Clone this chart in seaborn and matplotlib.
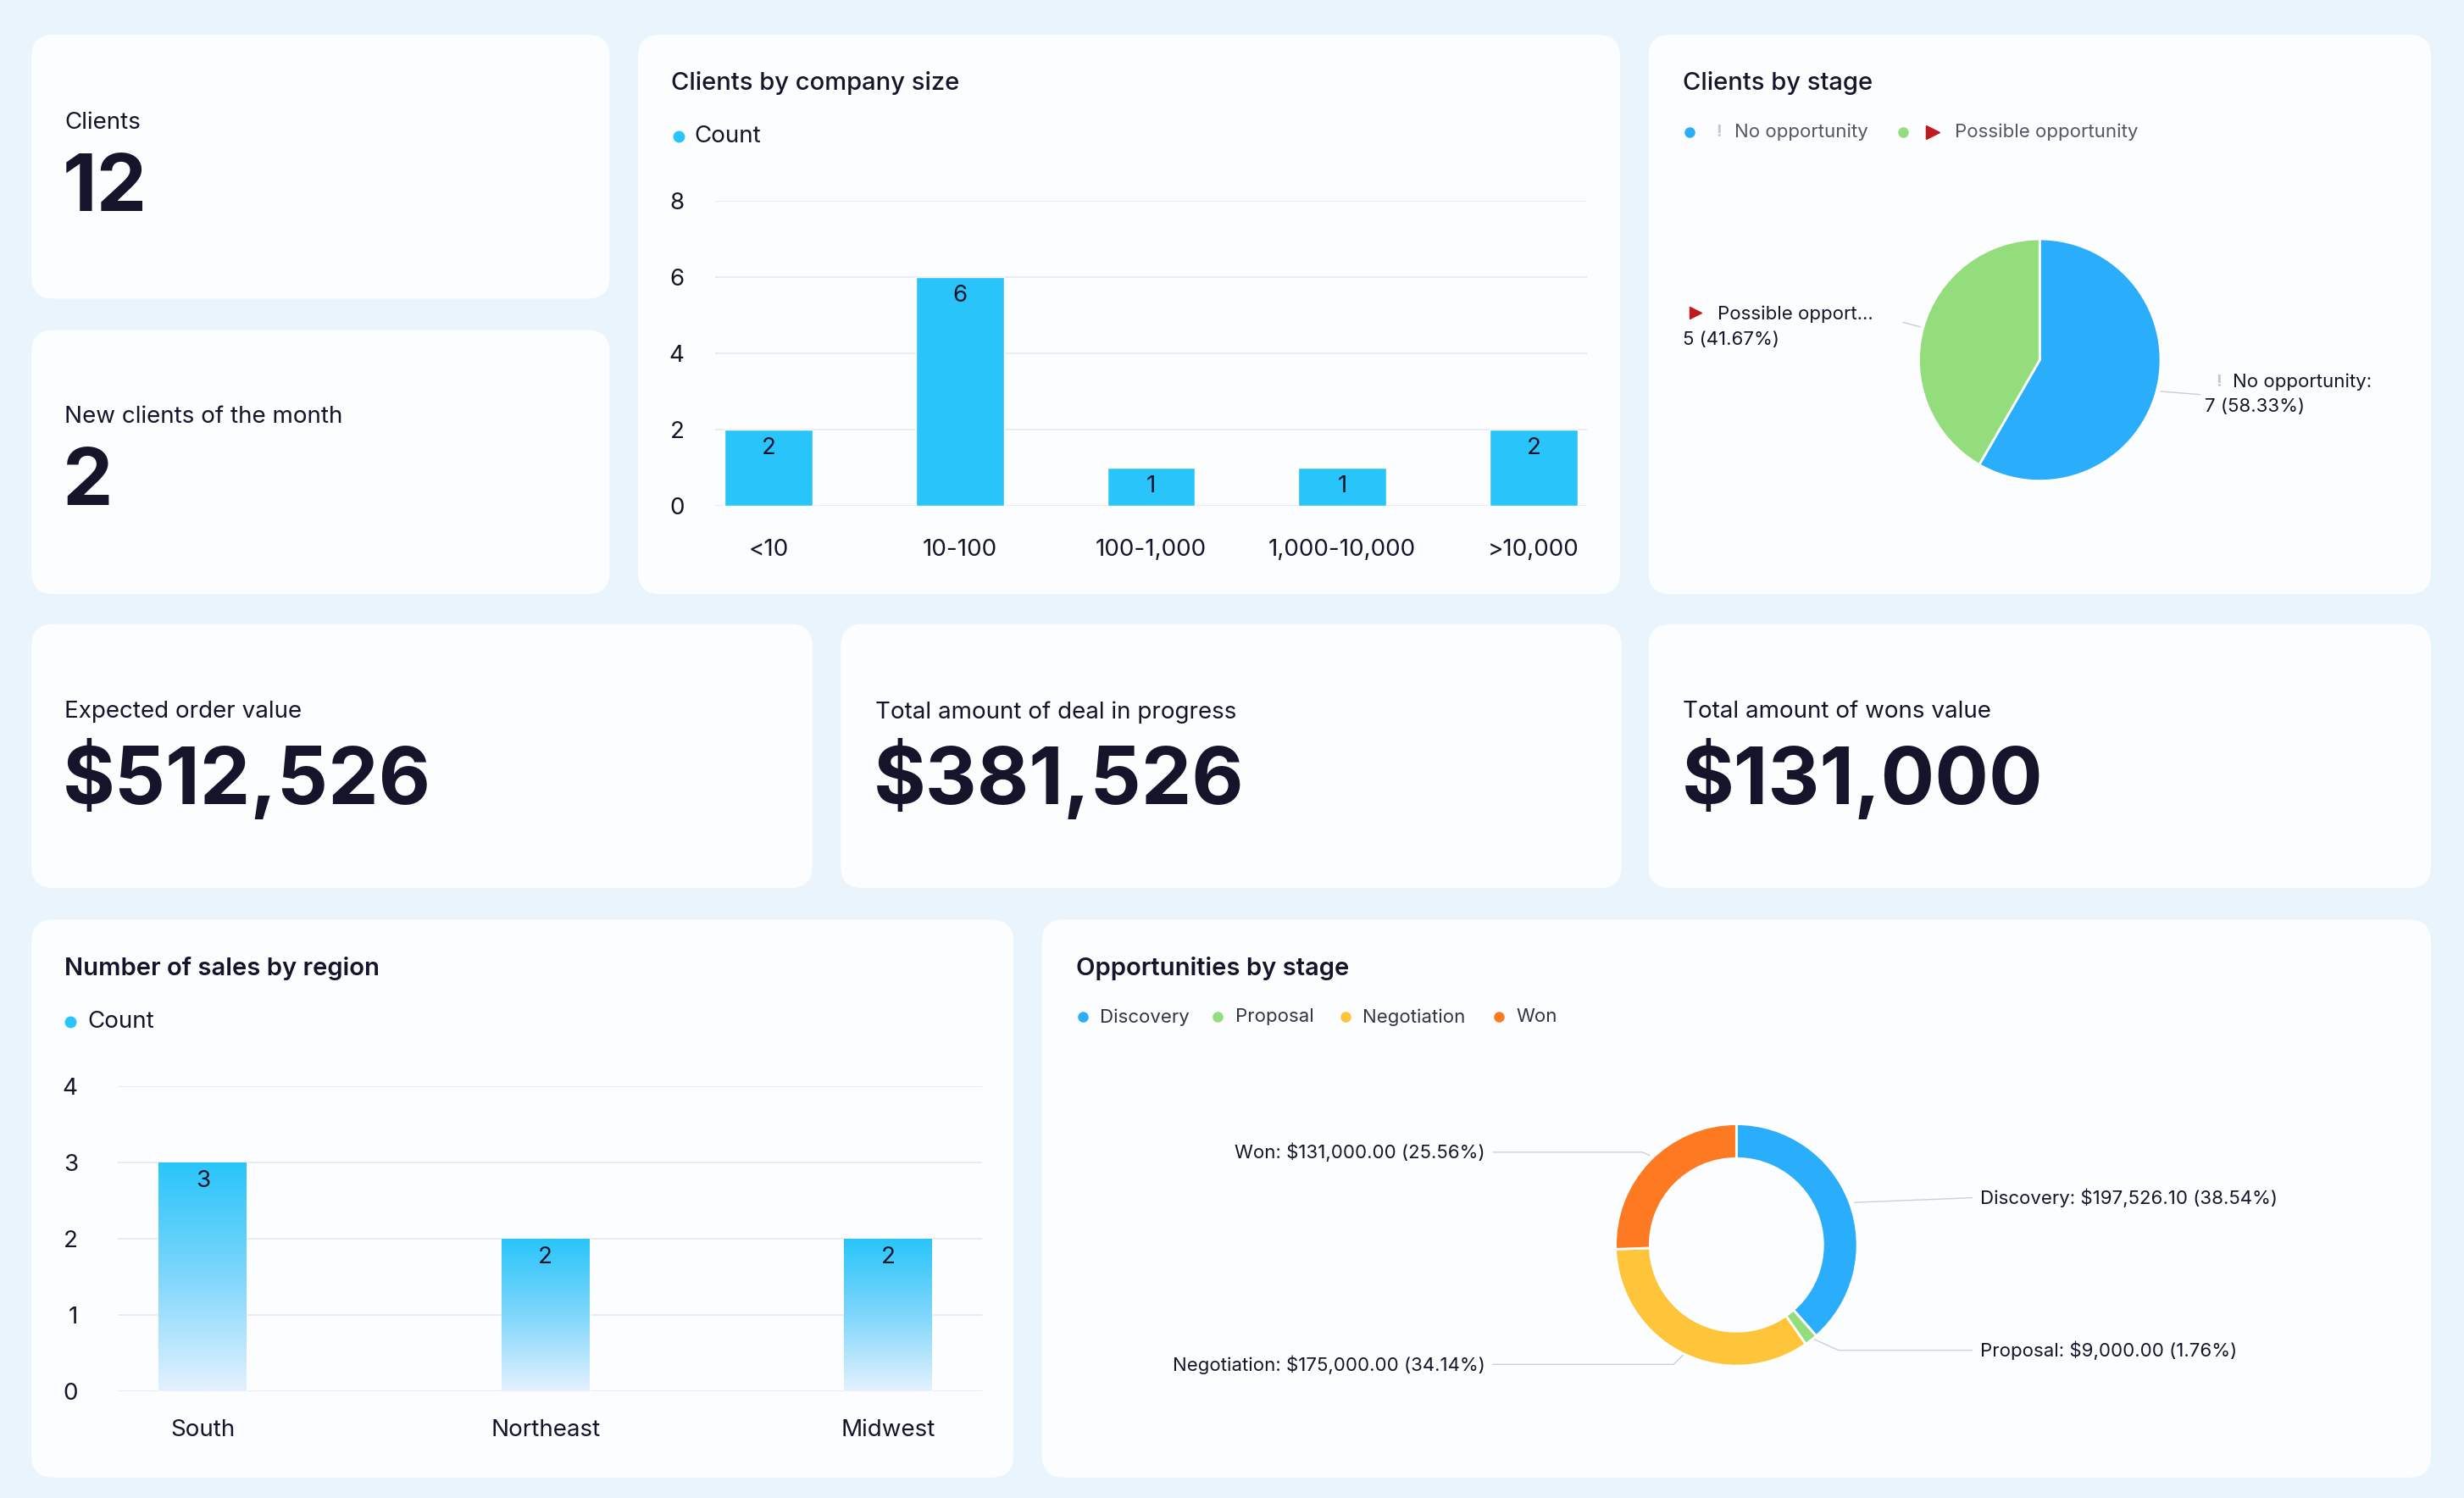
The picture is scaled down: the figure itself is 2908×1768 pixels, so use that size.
import numpy as np
import pandas as pd
import matplotlib
matplotlib.use("Agg")
import matplotlib.pyplot as plt
import seaborn as sns
from matplotlib.patches import FancyBboxPatch
from matplotlib.colors import LinearSegmentedColormap

sns.set_theme(style="white")
plt.rcParams['font.family'] = ['Inter', 'DejaVu Sans']

# ---- data ----
size_cats = ["<10", "10-100", "100-1,000", "1,000-10,000", ">10,000"]
size_counts = [2, 6, 1, 1, 2]
stage_labels = ["No opportunity", "Possible opportunity"]
stage_counts = [7, 5]
region_cats = ["South", "Northeast", "Midwest"]
region_counts = [3, 2, 2]
opp_labels = ["Discovery", "Proposal", "Negotiation", "Won"]
opp_values = [197526.10, 9000.00, 175000.00, 131000.00]
kpi_clients = 12
kpi_new = 2
kpi_expected = "$512,526"
kpi_progress = "$381,526"
kpi_won = "$131,000"

W, H = 1568, 953
fig = plt.figure(figsize=(29.08, 17.68), dpi=100)
fig.patch.set_facecolor("#eaf4fd")
bg = fig.add_axes([0, 0, 1, 1])
bg.set_xlim(0, W); bg.set_ylim(H, 0); bg.axis("off")
bg.set_facecolor("none")

DARK = "#14142b"
def card(x0, y0, x1, y1):
    bg.add_patch(FancyBboxPatch((x0, y0), x1 - x0, y1 - y0,
                                boxstyle="round,pad=0,rounding_size=14",
                                fc="#fbfdff", ec="none", zorder=0))

cards = [(20, 22, 388, 190), (20, 210, 388, 378), (406, 22, 1031, 378),
         (1049, 22, 1547, 378), (20, 397, 517, 565), (535, 397, 1032, 565),
         (1049, 397, 1547, 565), (20, 585, 645, 940), (663, 585, 1547, 940)]
for c in cards:
    card(*c)

def ax_at(x0, y0, x1, y1):
    return fig.add_axes([x0 / W, 1 - y1 / H, (x1 - x0) / W, (y1 - y0) / H])

# ---- KPI cards ----
def kpi(x, y, label, value):
    bg.text(x, y, label, fontsize=20, color=DARK, va="center", ha="left")
    bg.text(x - 1, y + 43, str(value), fontsize=68, fontweight="bold", color=DARK,
            va="center", ha="left")
kpi(41, 78, "Clients", kpi_clients)
kpi(41, 265, "New clients of the month", kpi_new)
kpi(41, 453, "Expected order value", kpi_expected)
kpi(557, 453, "Total amount of deal in progress", kpi_progress)
kpi(1071, 453, "Total amount of wons value", kpi_won)

# ---- Clients by company size ----
bg.text(427, 53, "Clients by company size", fontsize=21, fontweight="medium", color=DARK, va="center")
bg.plot([432], [87], "o", color="#29c5fa", ms=9)
bg.text(442, 87, "Count", fontsize=20, color=DARK, va="center")
ax1 = ax_at(455, 128, 1010, 322)
df1 = pd.DataFrame({"size": size_cats, "count": size_counts})
sns.barplot(data=df1, x="size", y="count", color="#29c5fa", width=0.46, saturation=1, ax=ax1)
ax1.set_ylim(0, 8); ax1.set_yticks([0, 2, 4, 6, 8])
ax1.set_xlim(-0.28, 4.28)
ax1.grid(axis="y", color="#e6e8ee", lw=1.2)
ax1.set_axisbelow(True)
for s in ax1.spines.values(): s.set_visible(False)
ax1.set_xlabel(""); ax1.set_ylabel("")
ax1.tick_params(axis="both", labelsize=20, colors=DARK, length=0)
ax1.tick_params(axis="x", pad=28)
ax1.tick_params(axis="y", pad=26)
for p, v in zip(ax1.patches, size_counts):
    ax1.text(p.get_x() + p.get_width() / 2, v - 0.2, str(v), ha="center", va="top", fontsize=20, color=DARK)
ax1.set_facecolor("none")

# ---- Clients by stage (pie) ----
bg.text(1071, 53, "Clients by stage", fontsize=21, fontweight="medium", color=DARK, va="center")
bg.plot([1075], [84], "o", color="#2aaefb", ms=8)
bg.text(1094, 84, "!", fontsize=14, color="#c8c8c8", va="center", ha="center", fontweight="bold")
bg.text(1104, 84, "No opportunity", fontsize=16, color="#555566", va="center")
bg.plot([1211], [84], "o", color="#93dd7c", ms=8)
bg.plot([1230], [84], marker=">", color="#c0191e", ms=11)
bg.text(1244, 84, "Possible opportunity", fontsize=16, color="#555566", va="center")
cx, cy, r = 1298, 229, 77
axp = ax_at(cx - 90, cy - 90, cx + 90, cy + 90)
axp.pie(stage_counts, colors=["#2aaefb", "#93dd7c"], startangle=90, counterclock=False,
        wedgeprops=dict(edgecolor="white", linewidth=2))
axp.set_xlim(-90 / 77, 90 / 77); axp.set_ylim(-90 / 77, 90 / 77)
bg.plot([1211, 1222], [205, 208], color="#cccccc", lw=1)
bg.plot([1375, 1400], [249, 251], color="#cccccc", lw=1)
bg.plot([1079], [199], marker=">", color="#c0191e", ms=10)
bg.text(1093, 200, "Possible opport…", fontsize=16, color=DARK, va="center")
bg.text(1071, 216, "5 (41.67%)", fontsize=16, color=DARK, va="center")
bg.text(1412, 243, "!", fontsize=14, color="#c8c8c8", va="center", ha="center", fontweight="bold")
bg.text(1421, 243, "No opportunity:", fontsize=16, color=DARK, va="center")
bg.text(1403, 259, "7 (58.33%)", fontsize=16, color=DARK, va="center")

# ---- Number of sales by region ----
bg.text(41, 616, "Number of sales by region", fontsize=21, fontweight="semibold", color=DARK, va="center")
bg.plot([45], [650], "o", color="#29c5fa", ms=9)
bg.text(56, 650, "Count", fontsize=20, color=DARK, va="center")
ax2 = ax_at(75, 691, 625, 885)
df2 = pd.DataFrame({"region": region_cats, "count": region_counts})
sns.barplot(data=df2, x="region", y="count", color="#29c5fa", width=0.257, saturation=1, ax=ax2)
XL = (-0.248, 2.275)
ax2.grid(axis="y", color="#e6e8ee", lw=1.2)
ax2.set_axisbelow(True)
for s in ax2.spines.values(): s.set_visible(False)
ax2.set_xlabel(""); ax2.set_ylabel("")
ax2.tick_params(axis="both", labelsize=20, colors=DARK, length=0)
ax2.tick_params(axis="x", pad=24)
ax2.tick_params(axis="y", pad=34)
grad = np.linspace(0, 1, 256).reshape(-1, 1)
cmap = LinearSegmentedColormap.from_list("g", ["#29c5fa", "#7fd6fb", "#e4f1ff"])
for p, v in zip(ax2.patches, region_counts):
    x0, w = p.get_x(), p.get_width()
    im = ax2.imshow(grad, cmap=cmap, aspect="auto", extent=(x0, x0 + w, 0, v), origin="upper", zorder=2)
    im.set_clip_path(p)
    p.set_facecolor("none")
    ax2.text(x0 + w / 2, v - 0.1, str(v), ha="center", va="top", fontsize=20, color=DARK, zorder=3)
ax2.set_ylim(0, 4); ax2.set_yticks([0, 1, 2, 3, 4]); ax2.set_xlim(*XL)
ax2.set_facecolor("none")

# ---- Opportunities by stage (donut) ----
bg.text(685, 616, "Opportunities by stage", fontsize=21, fontweight="semibold", color=DARK, va="center")
opp_colors = ["#2aaefb", "#93dd7c", "#fec43a", "#fd7a22"]
for lab, col, lx in zip(opp_labels, opp_colors, [689, 775, 856, 954]):
    bg.plot([lx], [647], "o", color=col, ms=8)
    bg.text(lx + 11, 647, lab, fontsize=16, color="#333344", va="center")
dcx, dcy = 1105, 792
axd = ax_at(dcx - 90, dcy - 90, dcx + 90, dcy + 90)
axd.pie(opp_values, colors=opp_colors, startangle=90, counterclock=False,
        wedgeprops=dict(width=22 / 77, edgecolor="white", linewidth=2))
axd.set_xlim(-90 / 77, 90 / 77); axd.set_ylim(-90 / 77, 90 / 77)
total = sum(opp_values)
pct = [v / total * 100 for v in opp_values]
texts = [
    (f"Discovery: ${opp_values[0]:,.2f} ({pct[0]:.2f}%)", 1260, 762, "left", [(1180, 765), (1255, 762)]),
    (f"Proposal: ${opp_values[1]:,.2f} ({pct[1]:.2f}%)", 1260, 859, "left", [(1150, 850), (1170, 859), (1255, 859)]),
    (f"Negotiation: ${opp_values[2]:,.2f} ({pct[2]:.2f}%)", 945, 868, "right", [(1075, 858), (1065, 868), (950, 868)]),
    (f"Won: ${opp_values[3]:,.2f} ({pct[3]:.2f}%)", 945, 733, "right", [(1050, 735), (1045, 733), (950, 733)]),
]
for txt, tx, ty, ha, pts in texts:
    xs, ys = zip(*pts)
    bg.plot(xs, ys, color="#d0d0d0", lw=1)
    bg.text(tx, ty, txt, fontsize=16, color=DARK, va="center", ha=ha)

fig.savefig("out.png", dpi=100)
